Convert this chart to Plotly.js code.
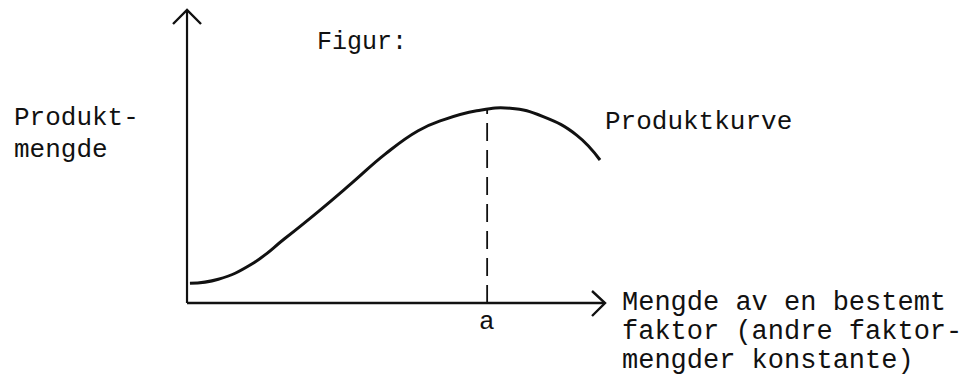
<!DOCTYPE html>
<html>
<head>
<meta charset="utf-8">
<script src="https://cdn.plot.ly/plotly-3.0.1.min.js"></script>
<style>html,body{margin:0;padding:0;background:#fff;}#chart{width:962px;height:381px;}</style>
</head>
<body>
<div id="chart"></div>
<script>
// ---- data ----
const curveX = [0.07, 0.75, 1.55, 2.34, 3.14, 3.94, 4.74, 5.53, 6.13, 6.93, 7.73, 8.52, 9.32, 9.88];
const curveY = [0.67, 0.81, 1.33, 2.20, 3.12, 4.09, 5.08, 5.88, 6.25, 6.56, 6.65, 6.36, 5.73, 4.88];
const aValue = 7.18;
const aCurveHeight = 6.62;
const xAxisEnd = 10;
const yAxisEnd = 10;
const figureTitle = "Figur:";
const yLabelLines = ["Produkt-", "mengde"];
const curveLabel = "Produktkurve";
const xLabelLines = ["Mengde av en bestemt", "faktor (andre faktor-", "mengder konstante)"];
const aLabel = "a";

// ---- layout helpers ----
const W = 962, H = 381;
const xRange = [-4.474, 18.54];
const yRange = [-2.662, 10.341];
const pxX = (W) / (xRange[1] - xRange[0]);
const pxY = (H) / (yRange[1] - yRange[0]);
const FONT = "Liberation Mono, Courier New, monospace";
const ink = "#111";

const traces = [
  // y axis
  {x: [0, 0], y: [0, yAxisEnd], mode: "lines", line: {color: ink, width: 2.2}},
  // x axis
  {x: [0, xAxisEnd], y: [0, 0], mode: "lines", line: {color: ink, width: 2.6}},
  // y arrowhead (open chevron)
  {x: [-14 / pxX, 0, 14 / pxX], y: [yAxisEnd - 14 / pxY, yAxisEnd, yAxisEnd - 14 / pxY],
   mode: "lines", line: {color: ink, width: 2.4}},
  // x arrowhead
  {x: [xAxisEnd - 13 / pxX, xAxisEnd, xAxisEnd - 13 / pxX], y: [12 / pxY, 0, -13 / pxY],
   mode: "lines", line: {color: ink, width: 2.4}},
  // dashed line at a
  {x: [aValue, aValue], y: [0, aCurveHeight], mode: "lines",
   line: {color: ink, width: 1.8, dash: "18px,9px"}},
  // product curve
  {x: curveX, y: curveY, mode: "lines", line: {color: ink, width: 3, shape: "spline", smoothing: 1.3}}
];

const px2paperX = p => p / W;
const px2paperY = p => 1 - p / H;

const annotations = [];
function addText(text, left, midY, size) {
  annotations.push({text: text, xref: "paper", yref: "paper", x: px2paperX(left), y: px2paperY(midY),
    xanchor: "left", yanchor: "middle", showarrow: false,
    font: {family: FONT, size: size, color: ink}});
}
addText(figureTitle, 315, 42, 25);
yLabelLines.forEach((t, i) => addText(t, 12, 118 + i * 32, 26));
addText(curveLabel, 603, 122, 26);
xLabelLines.forEach((t, i) => addText(t, 620, 303 + i * 29, 27));
annotations.push({text: aLabel, xref: "x", yref: "paper", x: aValue, y: px2paperY(322),
  xanchor: "center", yanchor: "middle", showarrow: false, font: {family: FONT, size: 26, color: ink}});

const layout = {
  width: W, height: H,
  margin: {l: 0, r: 0, t: 0, b: 0, pad: 0},
  paper_bgcolor: "#fff", plot_bgcolor: "#fff",
  showlegend: false,
  xaxis: {range: xRange, visible: false, fixedrange: true},
  yaxis: {range: yRange, visible: false, fixedrange: true},
  annotations: annotations
};

Plotly.newPlot("chart", traces, layout, {displayModeBar: false, staticPlot: true});
</script>
</body>
</html>
